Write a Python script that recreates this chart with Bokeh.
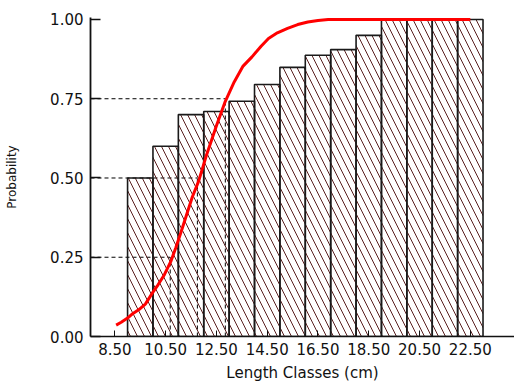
from bokeh.plotting import figure
from bokeh.models import Range1d, FixedTicker, NumeralTickFormatter
from bokeh.embed import file_html
from bokeh.resources import INLINE

# Length classes (class midpoints, cm) and observed cumulative probability
class_mid = [9.5, 10.5, 11.5, 12.5, 13.5, 14.5, 15.5, 16.5, 17.5, 18.5, 19.5, 20.5, 21.5, 22.5]
obs_prob = [0.50, 0.60, 0.70, 0.71, 0.742, 0.795, 0.849, 0.887, 0.905, 0.95, 1.0, 1.0, 1.0, 1.0]

# Fitted selection curve
curve_len = [8.55, 8.75, 9.0, 9.2, 9.45, 9.7, 10.0, 10.2, 10.45, 10.7, 10.9, 11.1, 11.3,
             11.55, 11.8, 12.1, 12.5, 12.85, 13.2, 13.55, 13.9, 14.25, 14.55, 14.9,
             15.3, 15.7, 16.1, 16.5, 16.9, 17.5, 18.5, 19.5, 20.5, 21.5, 22.5]
curve_prob = [0.036, 0.045, 0.058, 0.072, 0.085, 0.102, 0.14, 0.163, 0.195, 0.236, 0.28,
              0.328, 0.378, 0.44, 0.49, 0.57, 0.665, 0.742, 0.803, 0.853, 0.882, 0.915,
              0.94, 0.958, 0.972, 0.984, 0.992, 0.997, 1.0, 1.0, 1.0, 1.0, 1.0, 1.0, 1.0]

# Reference points L25, L50, L75
ref_prob = [0.25, 0.50, 0.75]
ref_len = [10.68, 11.75, 12.85]

x_ticks = [8.5, 10.5, 12.5, 14.5, 16.5, 18.5, 20.5, 22.5]
y_ticks = [0.0, 0.25, 0.50, 0.75, 1.0]

X0, X1 = 7.54, 24.24

p = figure(width=514, height=384, output_backend="svg", toolbar_location=None,
           x_range=Range1d(X0, X1), y_range=Range1d(0, 1.0063),
           min_border_left=90, min_border_right=0, min_border_top=17, min_border_bottom=46)
p.outline_line_color = None
p.xgrid.visible = False
p.ygrid.visible = False
p.background_fill_color = "white"
p.border_fill_color = "white"

# dashed guide lines
p.segment(x0=[X0] * 3, y0=ref_prob, x1=ref_len, y1=ref_prob,
          line_color="black", line_width=1, line_dash="4 3")
p.segment(x0=ref_len, y0=[0] * 3, x1=ref_len, y1=ref_prob,
          line_color="black", line_width=1, line_dash="4 3")

# hatched bars
p.vbar(x=class_mid, width=1.0, top=obs_prob, bottom=0,
       fill_color=None, line_color="#1a1a1a", line_width=1.6,
       hatch_pattern="\\", hatch_color="#5a2020", hatch_scale=14, hatch_weight=1)

# fitted curve
p.line(curve_len, curve_prob, line_color="#ff0000", line_width=3)

font = "DejaVu Sans"
xa = p.xaxis[0]
xa.ticker = FixedTicker(ticks=x_ticks)
xa.formatter = NumeralTickFormatter(format="0.00")
xa.minor_tick_line_color = None
xa.major_tick_in = 6
xa.major_tick_out = 0
xa.axis_line_color = "#111111"
xa.axis_line_width = 1.5
xa.major_tick_line_color = "#111111"
xa.major_label_text_font = font
xa.major_label_text_font_size = "15px"
xa.major_label_text_color = "#111111"
xa.major_label_standoff = 6
xa.axis_label = "Length Classes (cm)"
xa.axis_label_text_font = font
xa.axis_label_text_font_size = "15px"
xa.axis_label_text_font_style = "normal"
xa.axis_label_text_color = "#111111"
xa.axis_label_standoff = 6

ya = p.yaxis[0]
ya.ticker = FixedTicker(ticks=y_ticks)
ya.formatter = NumeralTickFormatter(format="0.00")
ya.minor_tick_line_color = None
ya.major_tick_in = 10
ya.major_tick_out = 0
ya.axis_line_color = "#111111"
ya.axis_line_width = 1.8
ya.major_tick_line_color = "#111111"
ya.major_tick_line_width = 1.5
ya.major_label_text_font = font
ya.major_label_text_font_size = "15px"
ya.major_label_text_color = "#111111"
ya.major_label_standoff = 7
ya.axis_label = "Probability"
ya.axis_label_text_font = font
ya.axis_label_text_font_size = "12px"
ya.axis_label_text_font_style = "normal"
ya.axis_label_text_color = "#111111"
ya.axis_label_standoff = 28

open("out.html", "w").write(file_html(p, INLINE))
